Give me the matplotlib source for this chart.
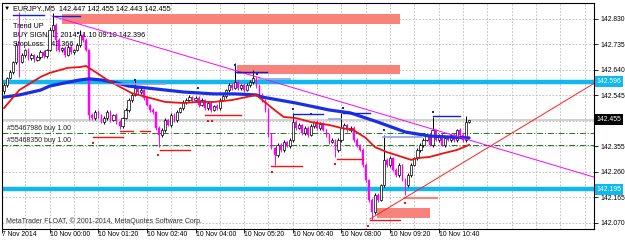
import numpy as np
import matplotlib
matplotlib.use('Agg')
import matplotlib.pyplot as plt
from matplotlib.patches import Rectangle
import matplotlib.transforms as mtrans

plt.rcParams['font.family'] = ['Liberation Sans', 'DejaVu Sans']

# M5 closes, bar 0 = 7 Nov late, bar 15 = 10 Nov 00:00
close = [142.584, 142.610, 142.633, 142.670, 142.733, 142.670, 142.696, 142.714, 142.685, 142.696,
         142.677, 142.688, 142.707, 142.692, 142.714, 142.789, 142.808, 142.752, 142.714, 142.722,
         142.696, 142.726, 142.707, 142.714, 142.733, 142.770, 142.752, 142.714, 142.472, 142.461,
         142.484, 142.472, 142.446, 142.461, 142.484, 142.454, 142.472, 142.446, 142.431, 142.461,
         142.491, 142.528, 142.547, 142.573, 142.558, 142.565, 142.536, 142.510, 142.491, 142.484,
         142.424, 142.398, 142.416, 142.454, 142.435, 142.472, 142.454, 142.484, 142.498, 142.521,
         142.528, 142.539, 142.528, 142.536, 142.510, 142.528, 142.498, 142.517, 142.491, 142.506,
         142.498, 142.528, 142.543, 142.565, 142.584, 142.573, 142.595, 142.573, 142.584, 142.565,
         142.584, 142.595, 142.610, 142.580, 142.547, 142.528, 142.491, 142.398, 142.349, 142.323,
         142.361, 142.342, 142.372, 142.357, 142.379, 142.446, 142.424, 142.435, 142.405, 142.424,
         142.398, 142.431, 142.446, 142.424, 142.439, 142.416, 142.398, 142.372, 142.379, 142.342,
         142.379, 142.424, 142.435, 142.416, 142.424, 142.379, 142.361, 142.342, 142.286, 142.230,
         142.156, 142.111, 142.174, 142.156, 142.212, 142.305, 142.286, 142.312, 142.267, 142.249,
         142.286, 142.230, 142.212, 142.249, 142.286, 142.312, 142.342, 142.361, 142.379, 142.398,
         142.361, 142.416, 142.379, 142.398, 142.361, 142.387, 142.379, 142.398, 142.379, 142.416,
         142.398, 142.379, 142.447, 142.455]
first_open = 142.560
# wicks in points (0.001)
wick_up = [6, 5, 8, 4, 10, 123, 7, 5, 9, 6,
           5, 8, 6, 7, 5, 10, 44, 6, 8, 5,
           7, 6, 9, 5, 8, 19, 6, 7, 5, 6,
           8, 6, 5, 9, 6, 7, 5, 8, 6, 5,
           7, 9, 6, 30, 5, 8, 6, 7, 5, 6,
           5, 7, 8, 6, 5, 9, 6, 7, 5, 8,
           6, 9, 5, 7, 6, 8, 5, 6, 7, 5,
           8, 6, 7, 5, 9, 6, 71, 7, 5, 8,
           6, 7, 30, 5, 6, 8, 5, 6, 7, 5,
           8, 6, 7, 5, 9, 34, 6, 7, 5, 8,
           6, 9, 5, 7, 6, 8, 5, 6, 7, 5,
           8, 56, 7, 5, 9, 6, 7, 5, 6, 8,
           5, 7, 6, 9, 5, 93, 6, 8, 5, 7,
           6, 5, 8, 6, 9, 5, 7, 6, 8, 5,
           7, 49, 6, 5, 8, 6, 7, 5, 9, 6,
           8, 5, 23, 0]
wick_dn = [8, 6, 5, 7, 6, 56, 5, 9, 6, 7,
           6, 5, 8, 6, 7, 5, 6, 40, 7, 6,
           8, 5, 6, 7, 5, 6, 8, 5, 18, 7,
           6, 9, 5, 7, 8, 6, 5, 7, 9, 6,
           5, 8, 6, 5, 7, 6, 9, 5, 6, 8,
           7, 45, 6, 8, 5, 7, 6, 9, 5, 6,
           8, 5, 7, 6, 9, 5, 7, 6, 8, 5,
           6, 8, 5, 7, 6, 9, 5, 6, 8, 7,
           5, 6, 8, 7, 5, 9, 6, 8, 5, 37,
           7, 6, 9, 5, 8, 6, 7, 5, 9, 6,
           8, 5, 7, 6, 9, 5, 6, 8, 5, 26,
           6, 7, 5, 8, 6, 9, 7, 5, 6, 8,
           7, 30, 6, 8, 5, 7, 6, 9, 5, 6,
           8, 5, 38, 7, 6, 5, 8, 6, 7, 5,
           6, 8, 5, 7, 6, 9, 5, 6, 8, 7,
           5, 6, 7, 4]

# moving averages (vertices)
slow_ma_bar = [0, 5, 12, 15, 20, 25, 28, 32, 37, 41, 47, 59, 69, 76, 83, 85, 96, 107, 114, 123, 132, 140, 147, 153]
slow_ma = [142.539, 142.547, 142.565, 142.580, 142.592, 142.603, 142.607, 142.603, 142.592, 142.580, 142.573,
           142.558, 142.551, 142.551, 142.547, 142.539, 142.517, 142.491, 142.480, 142.446, 142.409, 142.394,
           142.390, 142.387]
fast_ma_bar = [0, 5, 12, 15, 21, 25, 27, 30, 34, 37, 42, 47, 53, 59, 64, 69, 75, 83, 85, 89, 92, 96, 101, 107,
               111, 115, 119, 122, 126, 131, 134, 136, 140, 145, 149, 153]
fast_ma = [142.498, 142.565, 142.614, 142.629, 142.648, 142.651, 142.655, 142.633, 142.603, 142.584, 142.554,
           142.539, 142.521, 142.517, 142.521, 142.521, 142.528, 142.547, 142.528, 142.491, 142.465, 142.461,
           142.446, 142.435, 142.424, 142.416, 142.387, 142.353, 142.334, 142.316, 142.305, 142.312, 142.316,
           142.331, 142.342, 142.361]

levels_cyan = [142.596, 142.195]
order_levels = [142.405, 142.362]
order_labels = ['#55467986 buy 1.00', '#55468350 buy 1.00']
bid = 142.455

# zones: (bar start, bar end, price low, price high)
zones = [(19, 130.3, 142.811, 142.849), (76.6, 130.3, 142.625, 142.659), (122.7, 140.1, 142.089, 142.126)]

blue_seg = [(3, 13, 142.845), (16, 25, 142.841), (76, 86.5, 142.633), (95, 105, 142.476),
            (111.5, 120.4, 142.480), (141, 150, 142.469)]
light_seg = [(36.5, 53, 142.588), (84, 94, 142.607), (107, 111, 142.457), (124.7, 137.5, 142.390)]
red_seg = [(29.3, 39.1, 142.390), (38, 42.4, 142.413), (44.7, 48, 142.413), (51.3, 61.2, 142.342),
           (66, 78, 142.472), (88, 98, 142.283), (109.5, 118, 142.308), (120.4, 130.3, 142.081)]
red_dot_bar = [29.3, 50.7, 67.1, 68.4, 88.2, 108.9, 119.7, 131.9]
red_dot = [142.369, 142.323, 142.450, 142.450, 142.260, 142.290, 142.059, 142.144]
blue_dot_bar = [24.3, 43, 63.8, 76, 83.2, 95, 101, 111.5, 125, 141]
blue_dot = [142.778, 142.603, 142.573, 142.659, 142.625, 142.495, 142.476, 142.498, 142.416, 142.483]

trend_magenta = ([15.8, 194.1], [142.841, 142.241])
trend_red = ([120.4, 194.1], [142.085, 142.590])

xtick_bar = [-0.5, 15, 31, 47, 63, 79, 95, 111, 127, 143]
xtick_lab = ['7 Nov 2014', '10 Nov 00:00', '10 Nov 01:20', '10 Nov 02:40', '10 Nov 04:00',
             '10 Nov 05:20', '10 Nov 06:40', '10 Nov 08:00', '10 Nov 09:20', '10 Nov 10:40']
ytick = [142.070, 142.165, 142.260, 142.355, 142.450, 142.545, 142.640, 142.735, 142.830]

fig = plt.figure(figsize=(6.25, 2.4), dpi=100)
ax = fig.add_axes([2 / 625, 11 / 240, 592 / 625, 226 / 240])
ax.set_xlim(-0.66, 194.1)
ax.set_ylim(142.0476, 142.8896)

# grid
for gx in np.arange(-1, 195, 8):
    ax.axvline(gx, color='#b8b8b8', lw=0.6, ls=(0, (2, 2)), zorder=0)
for gy in ytick:
    ax.axhline(gy, color='#b8b8b8', lw=0.6, ls=(0, (2, 2)), zorder=0)

for x0, x1, lo, hi in zones:
    ax.add_patch(Rectangle((x0, lo), x1 - x0, hi - lo, facecolor='#f7837a', edgecolor='none', zorder=1))
ax.plot([132, 142.4], [142.163, 142.163], color='#f7837a', lw=1.5, zorder=1)

for lv in levels_cyan:
    ax.axhline(lv, color='#10b8f0', lw=3.2, zorder=2)
for lv in order_levels:
    ax.axhline(lv, color='#1a7a1a', lw=0.7, ls=(0, (6, 2, 1, 2)), zorder=2)
ax.axhline(bid, color='#c8c8c8', lw=1.2, zorder=2)

# candles
opens = [first_open] + close[:-1]
for i in range(len(close)):
    o, c = opens[i], close[i]
    h = max(o, c) + wick_up[i] * 0.001
    l = min(o, c) - wick_dn[i] * 0.001
    if c >= o:
        ax.vlines(i, l, h, color='black', lw=0.7, zorder=3)
        ax.bar(i, max(c - o, 0.002), bottom=o, width=0.75, facecolor='white', edgecolor='black', lw=0.5, zorder=4)
    else:
        ax.vlines(i, l, h, color='#ff00ff', lw=0.7, zorder=3)
        ax.bar(i, o - c, bottom=c, width=0.45, facecolor='#ff00ff', edgecolor='#ff00ff', lw=0.3, zorder=4)

ax.plot(slow_ma_bar, slow_ma, color='#1a2ee6', lw=2.3, zorder=5, solid_capstyle='round')
ax.plot(fast_ma_bar, fast_ma, color='#f01010', lw=1.3, zorder=5)

ax.plot(*trend_magenta, color='#ff00ff', lw=0.7, zorder=5)
ax.plot(*trend_red, color='#ff2020', lw=0.7, zorder=5)

for x0, x1, p in blue_seg:
    ax.plot([x0, x1], [p, p], color='#1020e0', lw=1.0, zorder=6)
for x0, x1, p in light_seg:
    ax.plot([x0, x1], [p, p], color='#8fa0e8', lw=1.2, zorder=6)
for x0, x1, p in red_seg:
    ax.plot([x0, x1], [p, p], color='#ff1010', lw=1.0, zorder=6)
ax.scatter(red_dot_bar, red_dot, s=3, color='#ff1010', marker='s', lw=0, zorder=7)
ax.scatter(blue_dot_bar, blue_dot, s=3, color='#1020e0', marker='s', lw=0, zorder=7)

# axes styling
for sp in ax.spines.values():
    sp.set_linewidth(0.8)
ax.yaxis.tick_right()
ax.set_yticks(ytick)
ax.set_yticklabels(['%.3f' % v if abs(v - 142.450) > 1e-6 else '' for v in ytick])
ax.set_xticks(xtick_bar)
ax.set_xticklabels(xtick_lab, ha='left')
ax.tick_params(axis='y', length=3, width=0.6, pad=1.5, labelsize=4.9)
ax.tick_params(axis='x', length=3, width=0.6, pad=-1.6, labelsize=4.9)
for lab in ax.get_xticklabels():
    lab.set_x(lab.get_position()[0])

tr = mtrans.blended_transform_factory(ax.transAxes, ax.transData)
for lv, bg in [(levels_cyan[0], '#10b8f0'), (levels_cyan[1], '#10b8f0'), (bid, 'black')]:
    ax.text(1.004, lv, '%.3f' % lv, transform=tr, ha='left', va='center', fontsize=4.9, color='white',
            bbox=dict(facecolor=bg, edgecolor='none', pad=1.3), zorder=10, clip_on=False)

# texts
ax.text(0.003, 0.977, '\u25bc', transform=ax.transAxes, fontsize=4.5, va='center', ha='left')
ax.text(0.0185, 0.977, 'EURJPY.,M5  142.447 142.455 142.443 142.455', transform=ax.transAxes,
        fontsize=5.2, va='center', ha='left')
ax.text(0.0185, 0.896, 'Trend UP', transform=ax.transAxes, fontsize=5.2, va='center')
ax.text(0.0185, 0.856, 'BUY SIGNAL: 2014.11.10 09:10 142.396', transform=ax.transAxes, fontsize=5.2, va='center')
ax.text(0.0185, 0.817, 'StopLoss: 142.366', transform=ax.transAxes, fontsize=5.2, va='center')
ax.text(0.008, 0.4456, order_labels[0], transform=ax.transAxes, fontsize=5.0, va='center', color='#202020')
ax.text(0.008, 0.3907, order_labels[1], transform=ax.transAxes, fontsize=5.0, va='center', color='#202020')
ax.text(0.006, 0.035, 'MetaTrader FLOAT, \u00a9 2001-2014, MetaQuotes Software Corp.', transform=ax.transAxes,
        fontsize=5.0, va='center', color='#303030')

fig.savefig('out.png', dpi=100)
